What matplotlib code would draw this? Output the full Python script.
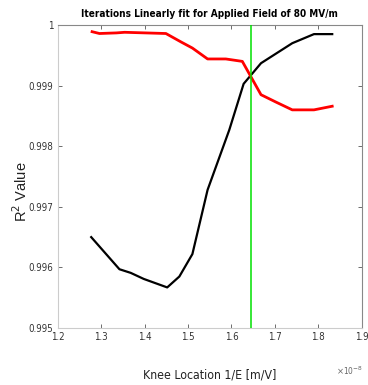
import matplotlib
matplotlib.use("Agg")
import matplotlib.pyplot as plt
from matplotlib import font_manager

# R^2 of linear fits versus knee location (units of 1e-8 m/V)
black_x = [1.277, 1.342, 1.368, 1.398, 1.452, 1.480, 1.510, 1.545, 1.595,
           1.628, 1.668, 1.740, 1.790, 1.832]
black_r2 = [0.99650, 0.99597, 0.99591, 0.99581, 0.99567, 0.99585, 0.99622,
            0.99728, 0.99827, 0.99903, 0.99937, 0.99970, 0.99985, 0.99985]

red_x = [1.279, 1.296, 1.335, 1.354, 1.449, 1.484, 1.510, 1.545, 1.587,
         1.625, 1.668, 1.702, 1.740, 1.790, 1.832]
red_r2 = [0.99989, 0.99986, 0.99987, 0.99988, 0.99986, 0.99972, 0.99962,
          0.99944, 0.99944, 0.99940, 0.99885, 0.99873, 0.99860, 0.99860,
          0.99866]

knee = 1.645

x_ticks = [1.2, 1.3, 1.4, 1.5, 1.6, 1.7, 1.8, 1.9]
x_tick_labels = ["1.2", "1.3", "1.4", "1.5", "1.6", "1.7", "1.8", "1.9"]
y_ticks = [0.995, 0.996, 0.997, 0.998, 0.999, 1.0]
y_tick_labels = ["0.995", "0.996", "0.997", "0.998", "0.999", "1"]

# prefer a condensed sans face for the narrow labels
narrow_stretch = "normal"
narrow = "Liberation Sans"
for f in font_manager.fontManager.ttflist:
    if "Narrow" in f.name or "Condensed" in f.name:
        narrow = f.name
        break
    if f.stretch in ("condensed", "semi-condensed") and "Sans" in f.name:
        narrow = f.name
        narrow_stretch = f.stretch
        break

fig = plt.figure(figsize=(3.68, 3.85), dpi=100)
ax = fig.add_axes([0.157, 0.148, 0.826, 0.787])

ax.plot(black_x, black_r2, color="black", lw=1.6, zorder=3)
ax.plot(red_x, red_r2, color="#ff0000", lw=2.0, zorder=3)
ax.axvline(knee, color="#00e000", lw=1.1, zorder=4)

tick_font = dict(family=narrow, stretch=narrow_stretch, size=7)
ax.set_xlim(1.2, 1.9)
ax.set_ylim(0.995, 1.0)
ax.set_xticks(x_ticks)
ax.set_xticklabels(x_tick_labels, fontdict=tick_font, color="#333333")
ax.set_yticks(y_ticks)
ax.set_yticklabels(y_tick_labels, fontdict=tick_font, color="#333333")
ax.tick_params(direction="in", length=3, width=0.6, color="#555555",
               top=True, right=True, pad=3)

ax.spines["left"].set_color("#cccccc")
ax.spines["bottom"].set_color("#cccccc")
ax.spines["top"].set_color("#888888")
ax.spines["right"].set_color("#888888")
for s in ax.spines.values():
    s.set_linewidth(0.8)

ax.set_title("Iterations Linearly fit for Applied Field of 80 MV/m",
             family=narrow, stretch=narrow_stretch, fontweight="bold",
             fontsize=7.2, pad=6)
ax.set_xlabel("Knee Location 1/E [m/V]", family=narrow, stretch=narrow_stretch,
              fontsize=8.8, color="#222222", labelpad=19)
ax.set_ylabel("R$^2$ Value", family="Liberation Sans", fontsize=10.5,
              color="#222222")
ax.yaxis.set_label_coords(-0.09, 0.45)

fig.text(0.985, 0.026, r"$\times$10$^{-8}$", family=narrow,
         stretch=narrow_stretch, fontsize=6, color="#666666", ha="right")

fig.savefig("out.png", dpi=100)
